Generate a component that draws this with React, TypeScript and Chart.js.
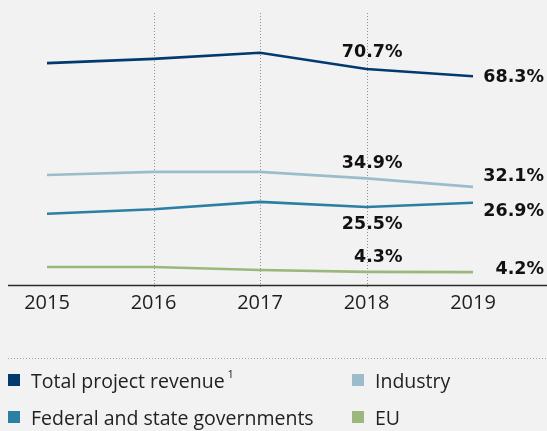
import React, { useEffect, useRef } from "react";
import { Chart, registerables } from "chart.js";

Chart.register(...registerables);

const years = ["2015", "2016", "2017", "2018", "2019"];
const totalProjectRevenue = [72.6, 74.0, 76.0, 70.7, 68.3];
const industry = [36.0, 37.0, 37.0, 34.9, 32.1];
const governments = [23.3, 24.8, 27.2, 25.5, 26.9];
const eu = [5.9, 5.9, 4.9, 4.3, 4.2];

const seriesNames = ["Total project revenue", "Industry", "Federal and state governments", "EU"];
const seriesColors = ["#023a6f", "#9bbdcb", "#2b7fa3", "#9ab77c"];
const seriesData = [totalProjectRevenue, industry, governments, eu];

const BG = "#f2f2f2";

const decorPlugin = {
  id: "decor",
  beforeDatasetsDraw(chart: any) {
    const ctx = chart.ctx;
    const xs = chart.scales.x;
    const area = chart.chartArea;
    ctx.save();
    ctx.strokeStyle = "#8f8f8f";
    ctx.lineWidth = 1;
    ctx.setLineDash([1, 2]);
    for (let i = 1; i < years.length - 1; i++) {
      const x = Math.round(xs.getPixelForValue(i)) + 0.5;
      ctx.beginPath();
      ctx.moveTo(x, area.top);
      ctx.lineTo(x, area.bottom + 2);
      ctx.stroke();
    }
    ctx.strokeStyle = "#a0a0a0";
    ctx.beginPath();
    ctx.moveTo(8, 358.5);
    ctx.lineTo(chart.width, 358.5);
    ctx.stroke();
    ctx.setLineDash([]);
    ctx.strokeStyle = "#2b2b2b";
    ctx.lineWidth = 1.5;
    ctx.beginPath();
    ctx.moveTo(8, area.bottom + 0.5);
    ctx.lineTo(chart.width, area.bottom + 0.5);
    ctx.stroke();
    ctx.restore();
  },
};

const valueLabelPlugin = {
  id: "valueLabels",
  afterDatasetsDraw(chart: any, _args: any, opts: any) {
    const ctx = chart.ctx;
    ctx.save();
    ctx.font = 'bold 17.5px "DejaVu Sans"';
    ctx.fillStyle = "#111111";
    ctx.textAlign = "right";
    ctx.textBaseline = "middle";
    chart.data.datasets.forEach((ds: any, i: number) => {
      const meta = chart.getDatasetMeta(i);
      (opts.spots || []).forEach((s: any) => {
        const el = meta.data[s.index];
        const v = ds.data[s.index];
        ctx.fillText(v.toFixed(1) + "%", el.x + s.dx, el.y + s.dy[i]);
      });
    });
    ctx.restore();
  },
};

export default function App() {
  const canvasRef = useRef<HTMLCanvasElement | null>(null);

  useEffect(() => {
    if (!canvasRef.current) return;
    const chart = new Chart(canvasRef.current, {
      type: "line",
      data: {
        labels: years,
        datasets: seriesData.map((d, i) => ({
          label: seriesNames[i],
          data: d,
          borderColor: seriesColors[i],
          backgroundColor: seriesColors[i],
          borderWidth: 2.6,
          pointRadius: 0,
          tension: 0,
          fill: false,
        })),
      },
      options: {
        responsive: false,
        animation: false,
        devicePixelRatio: 1,
        layout: { padding: { left: 47, right: 74, top: 13, bottom: 110 } },
        plugins: {
          legend: { display: false },
          tooltip: { enabled: false },
          valueLabels: {
            spots: [
              { index: 3, dx: 36, dy: [-16, -15, 17, -14] },
              { index: 4, dx: 71, dy: [1, -10, 9, -3] },
            ],
          },
        } as any,
        scales: {
          x: {
            offset: false,
            grid: { display: false, drawTicks: false },
            border: { display: false },
            ticks: {
              color: "#1e1e1e",
              font: { family: "'Open Sans', sans-serif", size: 20 },
              padding: 6,
              maxRotation: 0,
              autoSkip: false,
            },
          },
          y: {
            display: false,
            min: 0,
            max: 89,
          },
        },
      },
      plugins: [decorPlugin, valueLabelPlugin],
    });
    return () => chart.destroy();
  }, []);

  const legendPos = [
    { left: 8, top: 368 },
    { left: 352, top: 368 },
    { left: 8, top: 405 },
    { left: 352, top: 405 },
  ];

  return (
    <div
      style={{
        position: "fixed",
        left: 0,
        top: 0,
        width: 547,
        height: 431,
        background: BG,
        overflow: "hidden",
        fontFamily: "'Open Sans', sans-serif",
      }}
    >
      <canvas ref={canvasRef} width={547} height={431} style={{ display: "block", width: 547, height: 431 }} />
      {seriesNames.map((name, i) => (
        <div
          key={name}
          style={{
            position: "absolute",
            left: legendPos[i].left,
            top: legendPos[i].top,
            height: 24,
            display: "flex",
            alignItems: "center",
            whiteSpace: "nowrap",
            fontSize: 19.5,
            color: "#222222",
          }}
        >
          <span style={{ display: "inline-block", width: 12, height: 12, background: seriesColors[i], marginRight: 11 }} />
          <span>
            {name}
            {i === 0 ? (
              <sup style={{ fontSize: 11, marginLeft: 3, position: "relative", top: -2 }}>1</sup>
            ) : null}
          </span>
        </div>
      ))}
    </div>
  );
}
